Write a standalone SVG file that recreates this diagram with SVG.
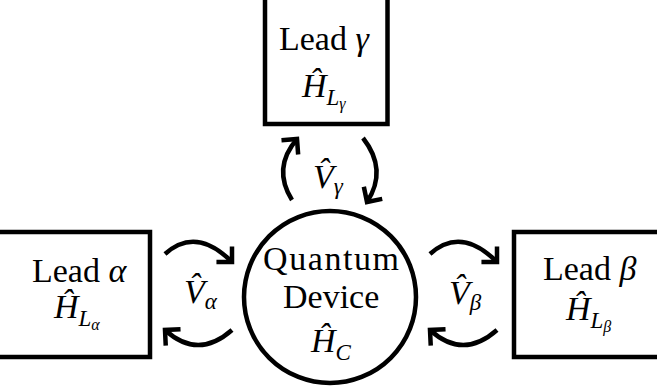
<svg xmlns="http://www.w3.org/2000/svg" width="657" height="392" viewBox="0 0 657 392" font-family="Liberation Serif, Times New Roman, DejaVu Serif, serif">
<style>
.box{fill:#fff;stroke:#000;stroke-width:4.5}
.arr{fill:none;stroke:#000;stroke-width:4.5}
text{font-family:"Liberation Serif","Times New Roman","DejaVu Serif",serif;font-size:34px;fill:#000}
.m{font-style:italic}
</style>
<defs>
<marker id="ah" markerUnits="userSpaceOnUse" orient="auto" markerWidth="30" markerHeight="30" refX="0" refY="0" viewBox="-15 -15 30 30" overflow="visible">
<path d="M-11,-11 L0,0 L-11,11" fill="none" stroke="#000" stroke-width="4.5"/>
</marker>
</defs>
<rect width="657" height="392" fill="#fff"/>
<g id="lead-gamma">
<rect class="box" x="265" y="-10" width="122.5" height="134"/>
<text x="279" y="50">Lead <tspan class="m">γ</tspan></text>
<text x="302" y="97" class="m">Ĥ<tspan style="font-size:23px" dy="8">L</tspan><tspan style="font-size:16px" dy="4">γ</tspan></text>
</g>
<g id="lead-alpha">
<rect class="box" x="-10" y="232" width="160" height="125"/>
<text x="32" y="282">Lead <tspan class="m">α</tspan></text>
<text x="54" y="318" class="m">Ĥ<tspan style="font-size:23px" dy="8">L</tspan><tspan style="font-size:16px" dy="4">α</tspan></text>
</g>
<g id="lead-beta">
<rect class="box" x="514" y="232" width="160" height="125"/>
<text x="543" y="280">Lead <tspan class="m">β</tspan></text>
<text x="566" y="320" class="m">Ĥ<tspan style="font-size:23px" dy="8">L</tspan><tspan style="font-size:16px" dy="4">β</tspan></text>
</g>
<g id="device">
<circle cx="330" cy="297" r="86" fill="#fff" stroke="#000" stroke-width="4.5"/>
<text x="263" y="270" textLength="136">Quantum</text>
<text x="283" y="308">Device</text>
<text x="311" y="352" class="m">Ĥ<tspan style="font-size:23px" dy="8">C</tspan></text>
</g>
<g id="connectors">
<path class="arr" d="M165,254 Q196,226 232,262" marker-end="url(#ah)"/>
<path class="arr" d="M232,330 Q198,360 165,330" marker-end="url(#ah)"/>
<path class="arr" d="M430,254 Q461,226 497,262" marker-end="url(#ah)"/>
<path class="arr" d="M497,330 Q463,360 430,330" marker-end="url(#ah)"/>
<path class="arr" d="M292,200 Q272,168 297,139" marker-end="url(#ah)"/>
<path class="arr" d="M363,138 Q388,170 367,202" marker-end="url(#ah)"/>
</g>
<g id="labels">
<text x="184" y="303" class="m">V̂<tspan style="font-size:23px" dy="6">α</tspan></text>
<text x="449" y="304" class="m">V̂<tspan style="font-size:23px" dy="6">β</tspan></text>
<text x="313" y="188" class="m">V̂<tspan style="font-size:23px" dy="6">γ</tspan></text>
</g>
</svg>
